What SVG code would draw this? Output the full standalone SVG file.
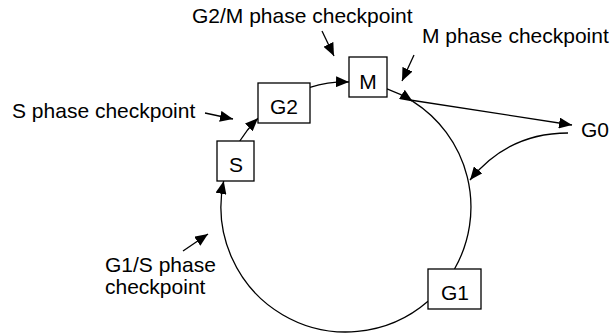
<svg xmlns="http://www.w3.org/2000/svg" width="613" height="335" viewBox="0 0 613 335">
<style>
text{font-family:"Liberation Sans",Arial,Helvetica,sans-serif;font-size:21px;fill:#000}
.box{fill:#fff;stroke:#000;stroke-width:1.3}
.c{fill:none;stroke:#000;stroke-width:1.3}
.mid{text-anchor:middle}
</style>
<defs>
<marker id="ah" markerUnits="userSpaceOnUse" markerWidth="13" markerHeight="11" refX="13" refY="5.5" orient="auto" viewBox="0 0 13 11">
<path d="M0,0 L13,5.5 L0,11 z" fill="#000"/>
</marker>
</defs>
<g id="connectors">
<path class="c" d="M387,88.9 A125,125 0 0 1 412.8,101.4" marker-end="url(#ah)"/>
<path class="c" d="M412.8,101.4 A125,125 0 0 1 454.5,269"/>
<path class="c" d="M428,301.3 A125,125 0 0 1 223.7,181" marker-end="url(#ah)"/>
<path class="c" d="M239.8,141 A125,125 0 0 1 258,118.2" marker-end="url(#ah)"/>
<path class="c" d="M310,87.3 A125,125 0 0 1 349,82" marker-end="url(#ah)"/>
<path class="c" d="M410,100 L572,125" marker-end="url(#ah)"/>
<path class="c" d="M568,133 Q508,133 470,180" marker-end="url(#ah)"/>
<path class="c" d="M322,31 L334,56" marker-end="url(#ah)"/>
<path class="c" d="M414,55 L402,81" marker-end="url(#ah)"/>
<path class="c" d="M205,113 L233,119" marker-end="url(#ah)"/>
<path class="c" d="M183,251 L208,234" marker-end="url(#ah)"/>
</g>
<g id="node-M"><rect class="box" x="349" y="57" width="38" height="40"/><text class="mid" x="368" y="89">M</text></g>
<g id="node-G2"><rect class="box" x="258" y="83" width="52" height="40"/><text class="mid" x="284" y="114">G2</text></g>
<g id="node-S"><rect class="box" x="217" y="141" width="37" height="40"/><text class="mid" x="236" y="172">S</text></g>
<g id="node-G1"><rect class="box" x="428" y="269" width="53" height="40"/><text class="mid" x="455" y="300">G1</text></g>
<g id="node-G0"><text x="581" y="137">G0</text></g>
<g id="labels">
<text x="192" y="23">G2/M phase checkpoint</text>
<text x="422" y="43">M phase checkpoint</text>
<text x="12" y="118">S phase checkpoint</text>
<text x="105" y="272">G1/S phase</text>
<text x="105" y="294">checkpoint</text>
</g>
</svg>
